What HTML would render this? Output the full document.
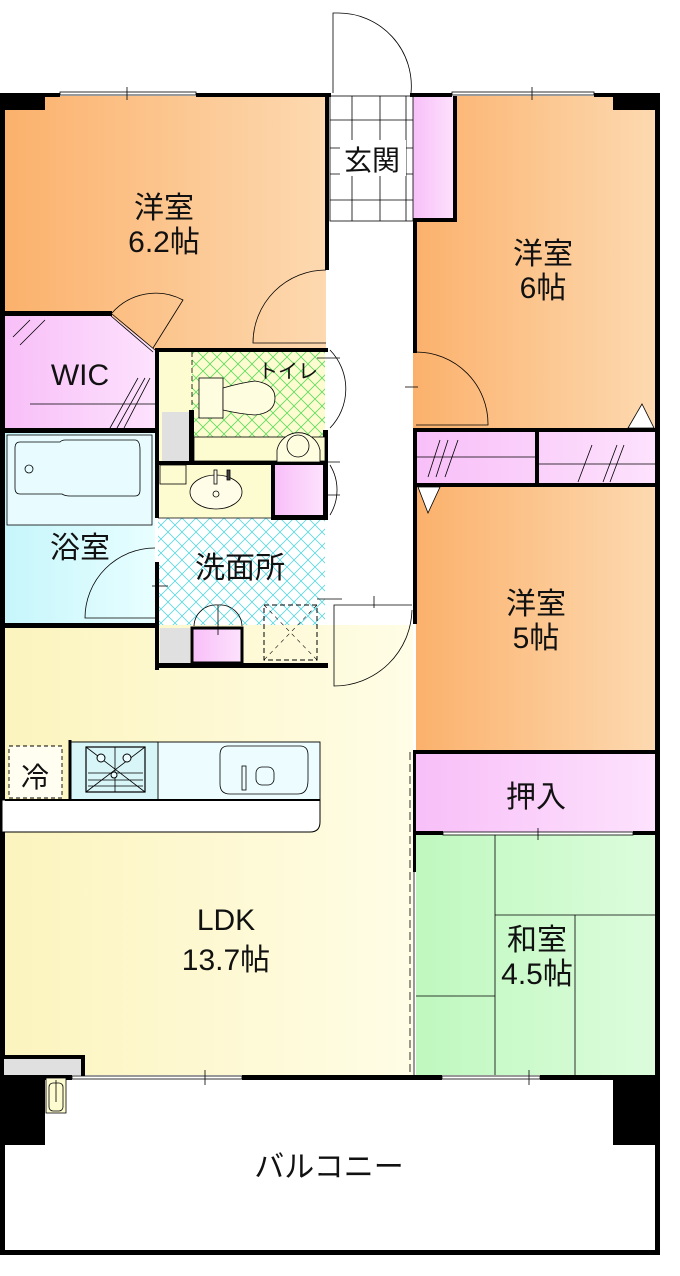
<!DOCTYPE html>
<html><head><meta charset="utf-8"><style>
html,body{margin:0;padding:0;background:#fff}
svg{display:block}
text{font-family:"Liberation Sans","Noto Sans CJK JP",sans-serif;fill:#111}
</style></head><body>
<svg width="680" height="1276" viewBox="0 0 680 1276" xmlns="http://www.w3.org/2000/svg">
<defs>
<linearGradient id="or" x1="0" x2="1"><stop offset="0" stop-color="#fbb16c"/><stop offset="1" stop-color="#fdd9b0"/></linearGradient>
<linearGradient id="pk" x1="0" x2="1"><stop offset="0" stop-color="#f8bff8"/><stop offset="1" stop-color="#fde2fd"/></linearGradient>
<linearGradient id="cy" x1="0" x2="1"><stop offset="0" stop-color="#c6f6fb"/><stop offset="1" stop-color="#e8feff"/></linearGradient>
<linearGradient id="ye" x1="0" x2="1"><stop offset="0" stop-color="#fcf4be"/><stop offset="1" stop-color="#fffde6"/></linearGradient>
<linearGradient id="gr" x1="0" x2="1"><stop offset="0" stop-color="#bff8bf"/><stop offset="1" stop-color="#dcfcdc"/></linearGradient>
<pattern id="hg" width="14" height="14" patternUnits="userSpaceOnUse"><path d="M0 0L14 14M14 0L0 14" stroke="#5ddc5d" stroke-width="0.8"/></pattern>
<pattern id="hc" width="14" height="14" patternUnits="userSpaceOnUse"><path d="M0 0L14 14M14 0L0 14" stroke="#5ad8e0" stroke-width="0.8"/></pattern>
</defs>

<!-- rooms -->
<rect x="5" y="96" width="321" height="254" fill="url(#or)"/>
<rect x="413" y="96" width="242" height="334" fill="url(#or)"/>
<rect x="328" y="96" width="85" height="530" fill="#fff"/>
<rect x="413" y="96" width="42" height="125" fill="url(#pk)"/>
<rect x="416" y="430" width="239" height="55" fill="url(#pk)"/>
<rect x="416" y="485" width="239" height="267" fill="url(#or)"/>
<rect x="416" y="752" width="239" height="81" fill="url(#pk)"/>
<rect x="416" y="833" width="239" height="242" fill="url(#gr)"/>
<path d="M5 316H112L155 350V430H5Z" fill="url(#pk)"/>
<rect x="5" y="433" width="150" height="192" fill="url(#cy)"/>
<rect x="158" y="350" width="167" height="113" fill="#fdfbd0"/>
<rect x="192" y="352" width="133" height="105" fill="url(#hg)"/>
<rect x="158" y="463" width="167" height="55" fill="#fdfbd0"/>
<rect x="158" y="518" width="167" height="147" fill="#fff"/>
<rect x="158" y="518" width="167" height="147" fill="url(#hc)"/>
<rect x="5" y="625" width="408" height="450" fill="url(#ye)"/>
<rect x="5" y="1080" width="650" height="170" fill="#fff"/>

<!-- genkan tiles -->
<g stroke="#000" stroke-width="0.8">
<rect x="330" y="96" width="83" height="125" fill="#fff"/>
<path d="M352 96V221M380 96V221M406 96V221M330 120H413M330 148H413M330 174H413M330 200H413"/>
</g>
<rect x="340" y="140" width="66" height="36" fill="#fff"/>
<text x="372" y="170" font-size="28" text-anchor="middle">玄関</text>

<!-- thin lines -->
<g stroke="#000" stroke-width="0.8" fill="none">
<path d="M495 833V1075M495 915H655M575 915V1075M416 996H495"/>
<path d="M416 457H535M537 464H655"/>
<path d="M30 404H155"/>
<path d="M428 477L440 440M436 477L448 440M445 477L458 440M578 482L592 445M603 482L617 445M610 482L624 445"/>
<path d="M13 337L30 320M20 345L45 320M110 428L138 378M117 428L145 378M124 428L150 378"/>
</g>

<!-- walls -->
<g fill="#000">
<rect x="0" y="93" width="5" height="1162"/>
<rect x="0" y="93" width="45" height="17"/>
<rect x="655" y="93" width="5" height="1162"/>
<rect x="613" y="93" width="47" height="17"/>
<rect x="5" y="93" width="55" height="4"/>
<rect x="196" y="93" width="135" height="4"/>
<rect x="410" y="93" width="42" height="4"/>
<rect x="594" y="93" width="66" height="4"/>
<rect x="325" y="96" width="4" height="174"/>
<rect x="453" y="96" width="4" height="126"/>
<rect x="413" y="218" width="44" height="4"/>
<rect x="413" y="218" width="4" height="135"/>
<rect x="413" y="428" width="4" height="196"/>
<rect x="5" y="311" width="107" height="5"/>
<rect x="155" y="348" width="4" height="82"/>
<rect x="155" y="348" width="173" height="4"/>
<rect x="5" y="428" width="153" height="5"/>
<rect x="155" y="428" width="4" height="90"/>
<rect x="155" y="562" width="4" height="108"/>
<rect x="189" y="410" width="5" height="55"/>
<rect x="155" y="461" width="172" height="4"/>
<rect x="323" y="430" width="5" height="90"/>
<rect x="271" y="515" width="57" height="5"/>
<rect x="271" y="463" width="4" height="55"/>
<rect x="5" y="623" width="153" height="5"/>
<rect x="155" y="663" width="173" height="5"/>
<rect x="415" y="428" width="240" height="4"/>
<rect x="535" y="430" width="4" height="55"/>
<rect x="415" y="483" width="240" height="4"/>
<rect x="413" y="750" width="242" height="4"/>
<rect x="413" y="831" width="30" height="4"/>
<rect x="633" y="831" width="22" height="4"/>
<rect x="413" y="752" width="3" height="120"/>
<rect x="0" y="1075" width="72" height="5"/>
<rect x="242" y="1075" width="200" height="5"/>
<rect x="540" y="1075" width="120" height="5"/>
<rect x="0" y="1080" width="45" height="65"/>
<rect x="613" y="1080" width="47" height="65"/>
<rect x="0" y="1250" width="660" height="5"/>
<rect x="0" y="1055" width="85" height="4"/>
<rect x="81" y="1055" width="4" height="22"/>
</g>
<rect x="4" y="1059" width="77" height="16" fill="#e0e0e0"/>
<rect x="162" y="412" width="27" height="49" fill="#e0e0e0"/>
<rect x="160" y="628" width="30" height="35" fill="#e0e0e0"/>
<rect x="192" y="628" width="50" height="35" fill="url(#pk)" stroke="#000" stroke-width="3"/>
<rect x="275" y="465" width="48" height="50" fill="url(#pk)"/>

<!-- windows -->
<g stroke="#000" stroke-width="0.8" fill="#fff">
<rect x="60" y="92" width="136" height="3"/>
<rect x="452" y="92" width="142" height="3"/>
<rect x="72" y="1076" width="170" height="3"/>
<rect x="442" y="1076" width="98" height="3"/>
<rect x="443" y="832" width="190" height="3"/>
</g>
<g stroke="#000" stroke-width="0.8" fill="none">
<path d="M127 87V100M532 87V100M538 828V840M205 1070V1085M529 1070V1085"/>
<path d="M333 93V13H338A73 73 0 0 1 411 93"/>
<path d="M326 270A73 73 0 0 0 253 343H326"/>
<path d="M112 314L155 350M111 316L153 352"/>
<path d="M112 313A58 58 0 0 1 183 300L153 348"/>
<path d="M330 350A56 56 0 0 1 330 428"/>
<path d="M317 358H340M313 462H340M323 495H340M317 599H342"/>
<path d="M330 465A48 48 0 0 1 330 515"/>
<path d="M416 352A72 72 0 0 1 488 425H416"/>
<path d="M405 387H418"/>
<path d="M155 548A70 70 0 0 0 85 618H155"/>
<path d="M152 586H168"/>
<path d="M412 610A78 78 0 0 1 334 686V605H412"/>
<path d="M374 596V608"/>
<path d="M410 752V1075" stroke-dasharray="8 4"/>
<path d="M414 752V1075"/>
<path d="M194 626A22 22 0 0 1 218 605V635M218 605A22 22 0 0 1 242 626"/>
</g>
<rect x="264" y="605" width="53" height="55" fill="none" stroke="#000" stroke-dasharray="5 3"/>
<path d="M264 605L317 660M317 605L264 660" stroke="#000" stroke-width="0.6" stroke-dasharray="4 4"/>

<path d="M628 428L642 404L654 428Z" fill="#fff" stroke="#000" stroke-width="0.8"/>
<path d="M418 487L440 487L428 513Z" fill="#fff" stroke="#000" stroke-width="0.8"/>

<!-- toilet -->
<g stroke="#000" stroke-width="0.8" fill="#fffde0">
<rect x="199" y="378" width="24" height="40"/>
<path d="M223 388Q240 383 255 381Q275 384 275 398Q275 413 255 415Q240 414 223 410Z"/>
<rect x="194" y="437" width="131" height="24" fill="#fdfbd0"/>
<path d="M277 462V450A22 22 0 0 1 320 450V462Z"/>
<circle cx="298" cy="446" r="11"/>
</g>
<path d="M192 352V405" stroke="#000" stroke-dasharray="5 3" stroke-width="0.8"/>
<text x="288" y="378" font-size="20" text-anchor="middle">トイレ</text>

<!-- washbasin -->
<g stroke="#000" stroke-width="0.8" fill="#fffde8">
<rect x="160" y="465" width="26" height="19" fill="#fdfbd0"/>
<ellipse cx="216" cy="492" rx="26" ry="17"/>
<circle cx="216" cy="494" r="3"/>
<rect x="214" y="470" width="3" height="14"/>
<rect x="227" y="470" width="3" height="10" fill="#444"/>
<path d="M158 518H271"/>
</g>

<!-- bath -->
<g stroke="#000" stroke-width="0.8" fill="none">
<rect x="7" y="435" width="145" height="90" fill="#e8fcff"/>
<path d="M20 442H60Q62 440 65 440H135Q140 440 140 450V490Q140 496 135 496H70Q65 496 62 494H20Q15 494 15 488V448Q15 442 20 442Z"/>
<circle cx="29" cy="469" r="4"/>
</g>

<!-- kitchen -->
<g stroke="#000" fill="none">
<rect x="9" y="746" width="53" height="52" stroke-dasharray="4 3" stroke-width="0.9" fill="#fffef0"/>
<rect x="70" y="742" width="250" height="58" stroke-width="0.9" fill="#ecfcff"/>
<rect x="70" y="742" width="88" height="58" stroke-width="0.9" fill="#d8f6f8"/>
<path d="M70 740V800" stroke-width="3"/>
<rect x="86" y="747" width="59" height="45" stroke-width="1.2"/>
<path d="M86 747L145 792M145 747L86 792M115 747V792M88 773H143M88 780H143M88 786H143" stroke-width="0.8"/>
<circle cx="101" cy="758" r="4" fill="#ecfcff"/><circle cx="127" cy="758" r="4" fill="#ecfcff"/><circle cx="114" cy="775" r="3" fill="#ecfcff"/>
<path d="M228 746H300Q308 746 308 755V780Q308 794 298 794H230Q220 794 220 784V755Q220 746 228 746Z" stroke-width="0.8"/>
<rect x="242" y="766" width="4" height="24" stroke-width="0.8"/>
<rect x="256" y="767" width="18" height="18" rx="6" stroke-width="0.8"/>
<path d="M2 800H320V822Q320 832 310 832H2Z" stroke-width="1" fill="#fff"/>
<path d="M5 800H320" stroke-width="2"/>
</g>
<text x="35" y="787" font-size="28" text-anchor="middle">冷</text>

<!-- balcony drain -->
<g stroke="#000" stroke-width="0.8" fill="#fdfbd0">
<rect x="46" y="1078" width="20" height="35"/>
<rect x="49" y="1083" width="14" height="28" rx="4"/>
<path d="M56 1080V1102"/>
</g>

<!-- labels -->
<g font-size="30" text-anchor="middle">
<text x="164" y="218">洋室</text><text x="164" y="252">6.2帖</text>
<text x="543" y="264">洋室</text><text x="543" y="298">6帖</text>
<text x="536" y="614">洋室</text><text x="536" y="648">5帖</text>
<text x="536" y="807">押入</text>
<text x="537" y="950">和室</text><text x="537" y="984">4.5帖</text>
<text x="226" y="930">LDK</text><text x="226" y="970">13.7帖</text>
<text x="80" y="558">浴室</text>
<text x="240" y="578">洗面所</text>
<text x="80" y="385">WIC</text>
<text x="329" y="1177">バルコニー</text>
</g>
</svg>
</body></html>
